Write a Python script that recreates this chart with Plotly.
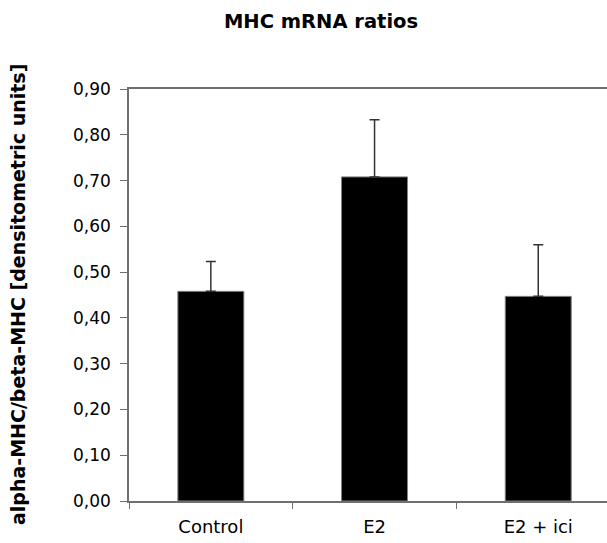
import plotly.graph_objects as go

# MHC mRNA ratio data
groups = ["Control", "E2", "E2 + ici"]
ratios = [0.458, 0.708, 0.447]
sd_upper = [0.065, 0.125, 0.113]
y_ticks = [0.0, 0.1, 0.2, 0.3, 0.4, 0.5, 0.6, 0.7, 0.8, 0.9]

FONT = "DejaVu Sans, Arial, sans-serif"

fig = go.Figure(
    go.Bar(
        x=groups,
        y=ratios,
        width=0.403,
        marker=dict(color="black", line=dict(color="#808080", width=1)),
        error_y=dict(
            type="data",
            symmetric=False,
            array=sd_upper,
            arrayminus=[0] * len(sd_upper),
            color="#333333",
            thickness=1.5,
            width=5,
        ),
    )
)

fig.update_layout(
    width=607,
    height=543,
    margin=dict(l=129, r=0, t=89, b=42),
    paper_bgcolor="white",
    plot_bgcolor="white",
    showlegend=False,
    separators=",.",
    font=dict(family=FONT, size=16, color="black"),
    title=dict(
        text="<b>MHC mRNA ratios</b>",
        x=321 / 607,
        xanchor="center",
        xref="container",
        y=1 - 21 / 543,
        yanchor="middle",
        yref="container",
        font=dict(family=FONT, size=19.5, color="black"),
    ),
    xaxis=dict(
        type="category",
        range=[-0.5, 2.42],
        showline=True,
        linecolor="#707070",
        linewidth=1.5,
        mirror=True,
        ticks="outside",
        tickson="boundaries",
        ticklen=6,
        tickcolor="#707070",
        showgrid=False,
        tickfont=dict(size=18),
        ticklabelstandoff=9,
    ),
    yaxis=dict(
        range=[0, 0.9],
        tickvals=y_ticks,
        tickformat=".2f",
        showline=True,
        linecolor="#707070",
        linewidth=1.5,
        ticks="outside",
        ticklen=7,
        tickcolor="#707070",
        showgrid=False,
        zeroline=False,
        tickfont=dict(size=17),
        ticklabelstandoff=6,
    ),
    annotations=[
        dict(
            text="<b>alpha-MHC/beta-MHC [densitometric units]</b>",
            textangle=-90,
            xref="paper",
            yref="paper",
            x=0,
            y=0.5,
            xanchor="center",
            yanchor="middle",
            xshift=-111,
            showarrow=False,
            font=dict(family=FONT, size=19, color="black"),
        )
    ],
)

fig.write_html("out.html")
